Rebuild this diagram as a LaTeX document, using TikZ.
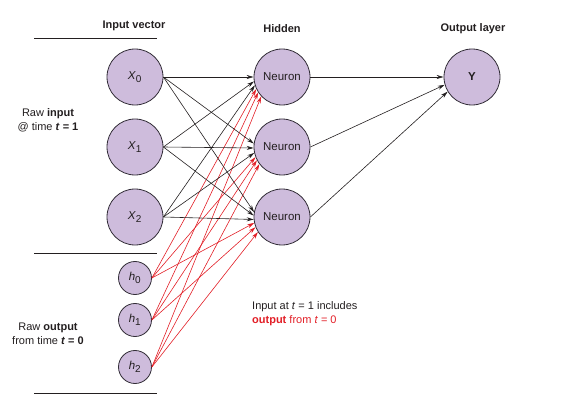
\documentclass[tikz,border=0pt]{standalone}
\usepackage{fontspec}
\setmainfont{Liberation Sans}
\usetikzlibrary{arrows.meta}
\definecolor{nodefill}{RGB}{206,188,220}
\definecolor{nodeedge}{RGB}{50,45,55}
\definecolor{rnnred}{RGB}{226,30,38}
\definecolor{txt}{RGB}{35,31,32}
\tikzset{
  big/.style={circle,draw=nodeedge,fill=nodefill,line width=0.8pt,minimum size=56pt,inner sep=0pt,font=\fontsize{11.5}{13}\selectfont,text=txt},
  small/.style={circle,draw=nodeedge,fill=nodefill,line width=0.8pt,minimum size=33pt,inner sep=0pt,font=\fontsize{11.5}{13}\selectfont,text=txt},
  blk/.style={draw=txt,line width=0.6pt,-{Stealth[length=7pt,width=4pt]}},
  red/.style={draw=rnnred,line width=0.6pt,-{Stealth[length=7pt,width=4pt]},color=rnnred},
  hdr/.style={font=\fontsize{11}{12}\selectfont\bfseries,text=txt},
  lbl/.style={font=\fontsize{11}{14}\selectfont,text=txt,align=center},
  sep/.style={draw=txt,line width=0.8pt}
}
\newcommand{\vsub}[2]{\textit{#1}\textsubscript{\fontsize{10}{10}\selectfont #2}}
\begin{document}
\begin{tikzpicture}[x=1pt,y=-1pt]
\useasboundingbox (0,0) rectangle (566,404);
% separator lines
\coordinate (l1a) at (34,38); \coordinate (l1b) at (157,38);
\coordinate (l2a) at (34,253); \coordinate (l2b) at (157,253);
\coordinate (l3a) at (34,393); \coordinate (l3b) at (157,393);
\draw[sep] (l1a) -- (l1b);
\draw[sep] (l2a) -- (l2b);
\draw[sep] (l3a) -- (l3b);
% headers
\node[hdr] (hin) at (134,26) {Input vector};
\node[hdr] (hhid) at (282,29) {Hidden};
\node[hdr] (hout) at (473,29) {Output layer};
% side labels
\node[lbl] (rawin) at (48,120) {Raw \textbf{input}\\@ time \textbf{\textit{t} = 1}};
\node[lbl] (rawout) at (48,334) {Raw \textbf{output}\\from time \textbf{\textit{t} = 0}};
\node[lbl,align=left,anchor=west,inner sep=0pt] (note) at (252,314) {Input at \textit{t} = 1 includes\\\textcolor{rnnred}{\textbf{output} from \textit{t} = 0}};
% nodes
\node[big] (x0) at (135,77) {\vsub{X}{0}};
\node[big] (x1) at (135,147) {\vsub{X}{1}};
\node[big] (x2) at (135,217) {\vsub{X}{2}};
\node[small] (h0) at (135,278) {\vsub{h}{0}};
\node[small] (h1) at (135,320) {\vsub{h}{1}};
\node[small] (h2) at (135,367) {\vsub{h}{2}};
\node[big] (n0) at (282,77) {Neuron};
\node[big] (n1) at (282,147) {Neuron};
\node[big] (n2) at (282,217) {Neuron};
\node[big,font=\fontsize{11.5}{13}\selectfont\bfseries] (y) at (472,77) {Y};
% recurrent (red) connections
\foreach \i/\j/\a in {0/0/205,1/0/213,2/0/223,
                      0/1/201,1/1/208,2/1/217,
                      0/2/192,1/2/201,2/2/212}{
  \draw[red] (h\i.east) -- (n\j.\a);
}
% input connections
\foreach \i/\j/\a in {0/0/180,1/0/189,2/0/197,
                      0/1/173,1/1/182,2/1/192,
                      0/2/170,1/2/177,2/2/185}{
  \draw[blk] (x\i.east) -- (n\j.\a);
}
% hidden to output
\foreach \j/\a in {0/180,1/196,2/211}{
  \draw[blk] (n\j.east) -- (y.\a);
}
\end{tikzpicture}
\end{document}
